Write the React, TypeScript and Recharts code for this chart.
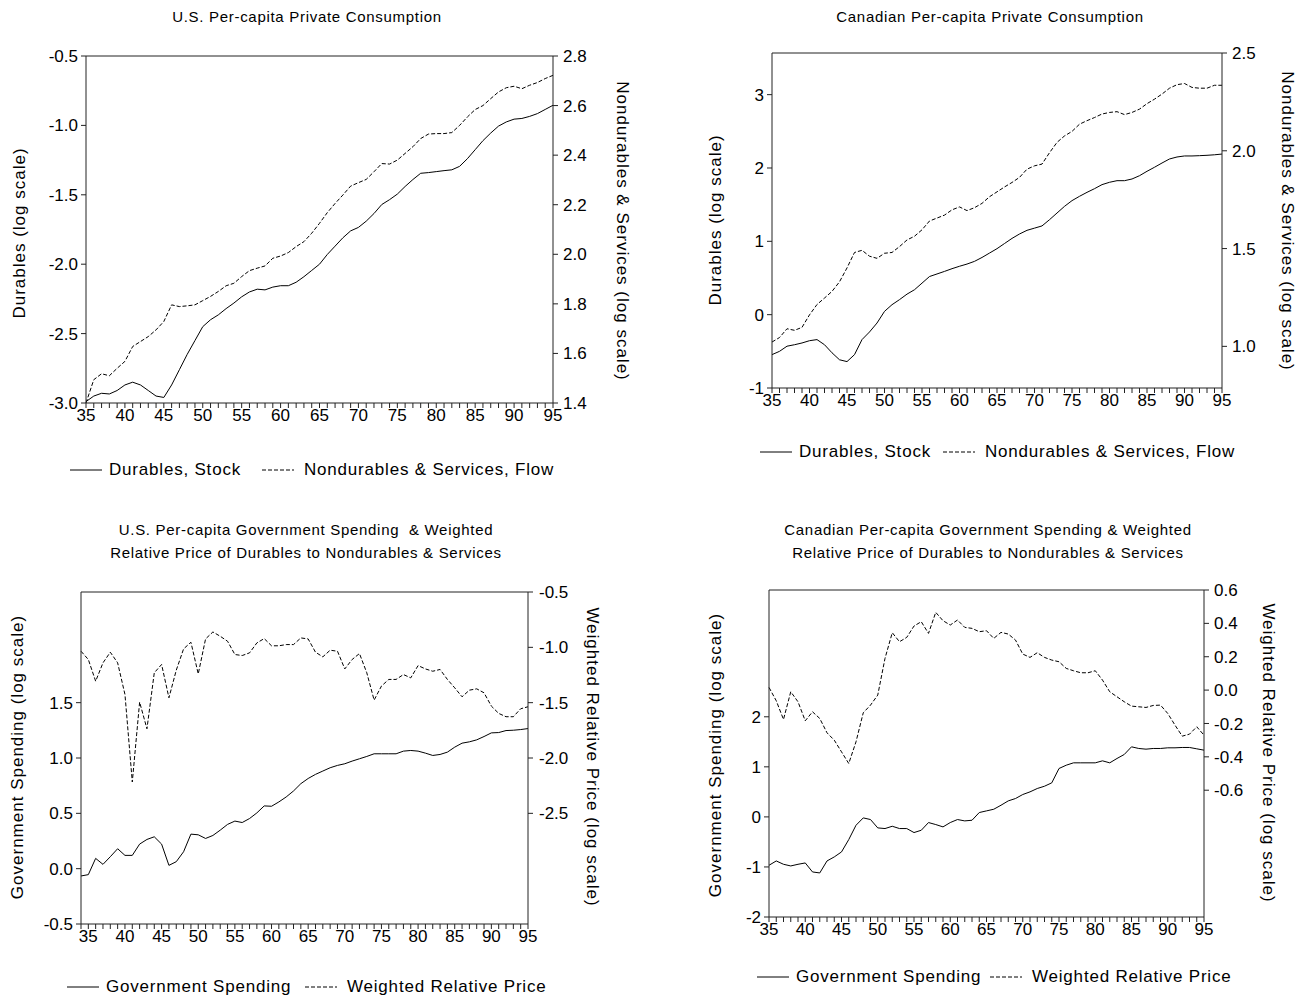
import React from 'react';
import { LineChart, Line, XAxis, YAxis, ReferenceLine } from 'recharts';

// years on the x axis
const years35 = Array.from({ length: 61 }, (_, i) => 35 + i);
const years34 = Array.from({ length: 62 }, (_, i) => 34 + i);

// U.S. per-capita private consumption (log scale), 1935-1995
const usDurables = [
  -2.99, -2.95, -2.93, -2.935, -2.91, -2.87, -2.85, -2.87, -2.91, -2.95,
  -2.96, -2.87, -2.76, -2.65, -2.55, -2.45, -2.4, -2.365, -2.32, -2.28,
  -2.235, -2.2, -2.18, -2.185, -2.165, -2.155, -2.155, -2.13, -2.09, -2.045,
  -2.0, -1.93, -1.87, -1.81, -1.76, -1.735, -1.69, -1.635, -1.57, -1.535,
  -1.495, -1.44, -1.39, -1.345, -1.34, -1.333, -1.326, -1.32, -1.295, -1.24,
  -1.175, -1.11, -1.055, -1.005, -0.975, -0.955, -0.95, -0.935, -0.915, -0.885, -0.855,
];
const usNondurables = [
  1.4, 1.494, 1.518, 1.51, 1.54, 1.568, 1.628, 1.648, 1.668, 1.695,
  1.729, 1.796, 1.789, 1.792, 1.796, 1.813, 1.83, 1.85, 1.873, 1.883,
  1.91, 1.934, 1.944, 1.953, 1.984, 1.993, 2.007, 2.031, 2.051, 2.085,
  2.125, 2.168, 2.205, 2.239, 2.275, 2.289, 2.302, 2.333, 2.366, 2.364,
  2.38, 2.407, 2.434, 2.467, 2.485, 2.487, 2.487, 2.491, 2.52, 2.554,
  2.584, 2.6, 2.628, 2.655, 2.672, 2.678, 2.668, 2.682, 2.693, 2.709, 2.722,
];

// Canadian per-capita private consumption (log scale), 1935-1995
const caDurables = [
  -0.545, -0.5, -0.43, -0.41, -0.386, -0.355, -0.34, -0.41, -0.52, -0.615,
  -0.64, -0.545, -0.34, -0.236, -0.114, 0.045, 0.136, 0.205, 0.28, 0.34,
  0.43, 0.52, 0.555, 0.59, 0.627, 0.66, 0.69, 0.727, 0.78, 0.84,
  0.9, 0.97, 1.04, 1.1, 1.15, 1.18, 1.21, 1.295, 1.386, 1.477,
  1.555, 1.614, 1.668, 1.718, 1.773, 1.805, 1.827, 1.827, 1.85, 1.895,
  1.955, 2.01, 2.068, 2.123, 2.15, 2.164, 2.164, 2.168, 2.173, 2.18, 2.19,
];
const caNondurables = [
  1.022, 1.045, 1.09, 1.082, 1.097, 1.161, 1.214, 1.247, 1.281, 1.33,
  1.401, 1.48, 1.491, 1.461, 1.45, 1.476, 1.48, 1.51, 1.544, 1.563,
  1.596, 1.641, 1.656, 1.671, 1.698, 1.713, 1.694, 1.709, 1.731, 1.765,
  1.79, 1.815, 1.838, 1.864, 1.906, 1.923, 1.932, 1.99, 2.043, 2.076,
  2.099, 2.136, 2.154, 2.17, 2.188, 2.196, 2.2, 2.185, 2.196, 2.213,
  2.241, 2.264, 2.29, 2.32, 2.338, 2.344, 2.324, 2.32, 2.32, 2.335, 2.335,
];

// U.S. government spending & weighted relative price, 1934-1995
const usGov = [
  -0.066, -0.054, 0.093, 0.039, 0.108, 0.18, 0.12, 0.12, 0.222, 0.264,
  0.288, 0.222, 0.03, 0.063, 0.153, 0.312, 0.306, 0.273, 0.3, 0.348,
  0.4, 0.43, 0.417, 0.453, 0.504, 0.567, 0.564, 0.603, 0.648, 0.702,
  0.768, 0.815, 0.852, 0.882, 0.912, 0.933, 0.948, 0.972, 0.993, 1.014,
  1.038, 1.038, 1.038, 1.038, 1.062, 1.068, 1.062, 1.044, 1.023, 1.032,
  1.053, 1.098, 1.134, 1.146, 1.164, 1.194, 1.227, 1.23, 1.248, 1.251, 1.257, 1.266,
];
const usRelPrice = [
  -1.035, -1.11, -1.306, -1.14, -1.044, -1.14, -1.426, -2.217, -1.495, -1.736,
  -1.23, -1.155, -1.456, -1.207, -1.014, -0.954, -1.24, -0.924, -0.861, -0.9,
  -0.945, -1.065, -1.074, -1.05, -0.96, -0.921, -0.986, -0.986, -0.975, -0.975,
  -0.915, -0.924, -1.044, -1.086, -1.026, -1.035, -1.195, -1.11, -1.056, -1.23,
  -1.477, -1.35, -1.29, -1.29, -1.246, -1.276, -1.165, -1.195, -1.216, -1.2,
  -1.29, -1.366, -1.447, -1.387, -1.375, -1.411, -1.531, -1.597, -1.627, -1.627, -1.555, -1.537,
];

// Canadian government spending & weighted relative price, 1935-1995
const caGov = [
  -0.967, -0.88, -0.947, -0.98, -0.947, -0.92, -1.1, -1.12, -0.88, -0.8,
  -0.7, -0.453, -0.167, -0.02, -0.053, -0.22, -0.233, -0.187, -0.233, -0.233,
  -0.313, -0.267, -0.113, -0.153, -0.2, -0.113, -0.053, -0.08, -0.067, 0.087,
  0.12, 0.153, 0.233, 0.32, 0.367, 0.447, 0.5, 0.567, 0.613, 0.68,
  0.967, 1.033, 1.08, 1.08, 1.08, 1.08, 1.12, 1.08, 1.167, 1.247,
  1.4, 1.367, 1.353, 1.367, 1.367, 1.38, 1.38, 1.387, 1.387, 1.36, 1.333,
];
const caRelPrice = [
  0.016, -0.064, -0.176, -0.01, -0.07, -0.184, -0.13, -0.17, -0.256, -0.3,
  -0.37, -0.44, -0.31, -0.136, -0.09, -0.03, 0.19, 0.344, 0.29, 0.316,
  0.384, 0.41, 0.34, 0.466, 0.416, 0.39, 0.42, 0.376, 0.37, 0.35,
  0.356, 0.31, 0.346, 0.336, 0.3, 0.216, 0.196, 0.224, 0.196, 0.18,
  0.17, 0.13, 0.116, 0.104, 0.104, 0.116, 0.06, -0.01, -0.04, -0.07,
  -0.096, -0.1, -0.104, -0.092, -0.09, -0.14, -0.21, -0.276, -0.264, -0.22, -0.27,
];

// axis ticks
const usConsLeftTicks = [-3.0, -2.5, -2.0, -1.5, -1.0, -0.5];
const usConsRightTicks = [1.4, 1.6, 1.8, 2.0, 2.2, 2.4, 2.6, 2.8];
const caConsLeftTicks = [-1, 0, 1, 2, 3];
const caConsRightTicks = [1.0, 1.5, 2.0, 2.5];
const usGovLeftTicks = [-0.5, 0.0, 0.5, 1.0, 1.5];
const usGovRightTicks = [-2.5, -2.0, -1.5, -1.0, -0.5];
const caGovLeftTicks = [-2, -1, 0, 1, 2];
const caGovRightTicks = [-0.6, -0.4, -0.2, 0.0, 0.2, 0.4, 0.6];

const zip = (years: number[], a: number[], b: number[]) =>
  years.map((year, i) => ({ year, solid: a[i], dash: b[i] }));

const AX = '#222';
const FONT = '"Liberation Sans", Arial, sans-serif';
const TICK = { fontSize: 17, fill: '#000' };

type AxisCfg = { domain: [number, number]; ticks: number[]; digits: number };

function Panel(props: {
  plotX: number; plotY: number; plotW: number; plotH: number;
  data: any[]; years: number[]; left: AxisCfg; right: AxisCfg; rightGap: number;
}) {
  const { plotX, plotY, plotW, plotH, data, years, left, right, rightGap } = props;
  const YW = 60;
  const TOP = 10;
  const XH = 30;
  return (
    <div style={{ position: 'absolute', left: plotX - YW, top: plotY - TOP }}>
      <LineChart width={plotW + 2 * YW} height={plotH + TOP + XH} data={data}
        margin={{ top: TOP, right: 0, bottom: 0, left: 0 }}>
        <XAxis dataKey="year" type="number" domain={[years[0], years[years.length - 1]]}
          ticks={years} interval={0} height={XH} stroke={AX} tickSize={5} tickMargin={1}
          tick={TICK}
          tickFormatter={(v: number) => (v % 5 === 0 ? String(v) : '')} />
        <YAxis yAxisId="left" orientation="left" width={YW} domain={left.domain} ticks={left.ticks}
          interval={0} stroke={AX} tickSize={5} tickMargin={3} allowDataOverflow
          tick={TICK}
          tickFormatter={(v: number) => v.toFixed(left.digits)} />
        <YAxis yAxisId="right" orientation="right" width={YW} domain={right.domain} ticks={right.ticks}
          interval={0} stroke={AX} tickSize={5} tickMargin={rightGap} allowDataOverflow
          tick={TICK}
          tickFormatter={(v: number) => v.toFixed(right.digits)} />
        <ReferenceLine yAxisId="left" y={left.domain[1]} stroke={AX} />
        <Line yAxisId="left" type="linear" dataKey="solid" stroke="#000" strokeWidth={1}
          dot={false} isAnimationActive={false} />
        <Line yAxisId="right" type="linear" dataKey="dash" stroke="#000" strokeWidth={1}
          strokeDasharray="4 2" dot={false} isAnimationActive={false} />
      </LineChart>
    </div>
  );
}

function Text({ x, y, children }: { x: number; y: number; children: React.ReactNode }) {
  return (
    <div style={{ position: 'absolute', left: x, top: y, transform: 'translate(-50%,-50%)',
      whiteSpace: 'nowrap', fontSize: 15, letterSpacing: 0.7, lineHeight: '23px', textAlign: 'center' }}>
      {children}
    </div>
  );
}

function VText({ x, y, children, deg }: { x: number; y: number; children: React.ReactNode; deg: number }) {
  return (
    <div style={{ position: 'absolute', left: x, top: y, transform: `translate(-50%,-50%) rotate(${deg}deg)`,
      whiteSpace: 'nowrap', fontSize: 17, letterSpacing: 1.0 }}>
      {children}
    </div>
  );
}

function LegendItem({ x, y, dashed, label }: { x: number; y: number; dashed: boolean; label: string }) {
  return (
    <div style={{ position: 'absolute', left: x, top: y - 10, height: 20, display: 'flex', alignItems: 'center',
      whiteSpace: 'nowrap', fontSize: 17, letterSpacing: 0.8 }}>
      <svg width={32} height={4} style={{ marginRight: dashed ? 10 : 7 }}>
        <line x1={0} y1={2} x2={32} y2={2} stroke="#000" strokeWidth={1} strokeDasharray={dashed ? '4 2' : undefined} />
      </svg>
      <span>{label}</span>
    </div>
  );
}

export default function App() {
  return (
    <div style={{ position: 'absolute', left: 0, top: 0, width: 1314, height: 1001, background: '#fff',
      fontFamily: FONT, color: '#000' }}>
      {/* top left */}
      <Text x={307} y={16}>U.S. Per-capita Private Consumption</Text>
      <Panel plotX={86} plotY={56} plotW={467} plotH={347} years={years35}
        data={zip(years35, usDurables, usNondurables)}
        left={{ domain: [-3.0, -0.5], ticks: usConsLeftTicks, digits: 1 }}
        right={{ domain: [1.4, 2.8], ticks: usConsRightTicks, digits: 1 }} rightGap={5} />
      <VText x={20} y={233} deg={-90}>Durables (log scale)</VText>
      <VText x={622} y={231} deg={90}>Nondurables &amp; Services (log scale)</VText>
      <LegendItem x={70} y={470} dashed={false} label="Durables, Stock" />
      <LegendItem x={262} y={470} dashed={true} label="Nondurables & Services, Flow" />

      {/* top right */}
      <Text x={990} y={16}>Canadian Per-capita Private Consumption</Text>
      <Panel plotX={772} plotY={53} plotW={450} plotH={335} years={years35}
        data={zip(years35, caDurables, caNondurables)}
        left={{ domain: [-1, 3.568], ticks: caConsLeftTicks, digits: 0 }}
        right={{ domain: [0.787, 2.5], ticks: caConsRightTicks, digits: 1 }} rightGap={5} />
      <VText x={716} y={220} deg={-90}>Durables (log scale)</VText>
      <VText x={1287} y={221} deg={90}>Nondurables &amp; Services (log scale)</VText>
      <LegendItem x={760} y={452} dashed={false} label="Durables, Stock" />
      <LegendItem x={943} y={452} dashed={true} label="Nondurables & Services, Flow" />

      {/* bottom left */}
      <Text x={306} y={541}>
        U.S. Per-capita Government Spending &nbsp;&amp; Weighted<br />
        Relative Price of Durables to Nondurables &amp; Services
      </Text>
      <Panel plotX={81} plotY={592} plotW={447} plotH={332} years={years34}
        data={zip(years34, usGov, usRelPrice)}
        left={{ domain: [-0.5, 2.5], ticks: usGovLeftTicks, digits: 1 }}
        right={{ domain: [-3.5, -0.5], ticks: usGovRightTicks, digits: 1 }} rightGap={6} />
      <VText x={18} y={757} deg={-90}>Government Spending (log scale)</VText>
      <VText x={592} y={757} deg={90}>Weighted Relative Price (log scale)</VText>
      <LegendItem x={67} y={987} dashed={false} label="Government Spending" />
      <LegendItem x={305} y={987} dashed={true} label="Weighted Relative Price" />

      {/* bottom right */}
      <Text x={988} y={541}>
        Canadian Per-capita Government Spending &amp; Weighted<br />
        Relative Price of Durables to Nondurables &amp; Services
      </Text>
      <Panel plotX={769} plotY={590} plotW={435} plotH={327} years={years35}
        data={zip(years35, caGov, caRelPrice)}
        left={{ domain: [-2, 4.533], ticks: caGovLeftTicks, digits: 0 }}
        right={{ domain: [-1.36, 0.6], ticks: caGovRightTicks, digits: 1 }} rightGap={5} />
      <VText x={716} y={755} deg={-90}>Government Spending (log scale)</VText>
      <VText x={1268} y={753} deg={90}>Weighted Relative Price (log scale)</VText>
      <LegendItem x={757} y={977} dashed={false} label="Government Spending" />
      <LegendItem x={990} y={977} dashed={true} label="Weighted Relative Price" />
    </div>
  );
}
